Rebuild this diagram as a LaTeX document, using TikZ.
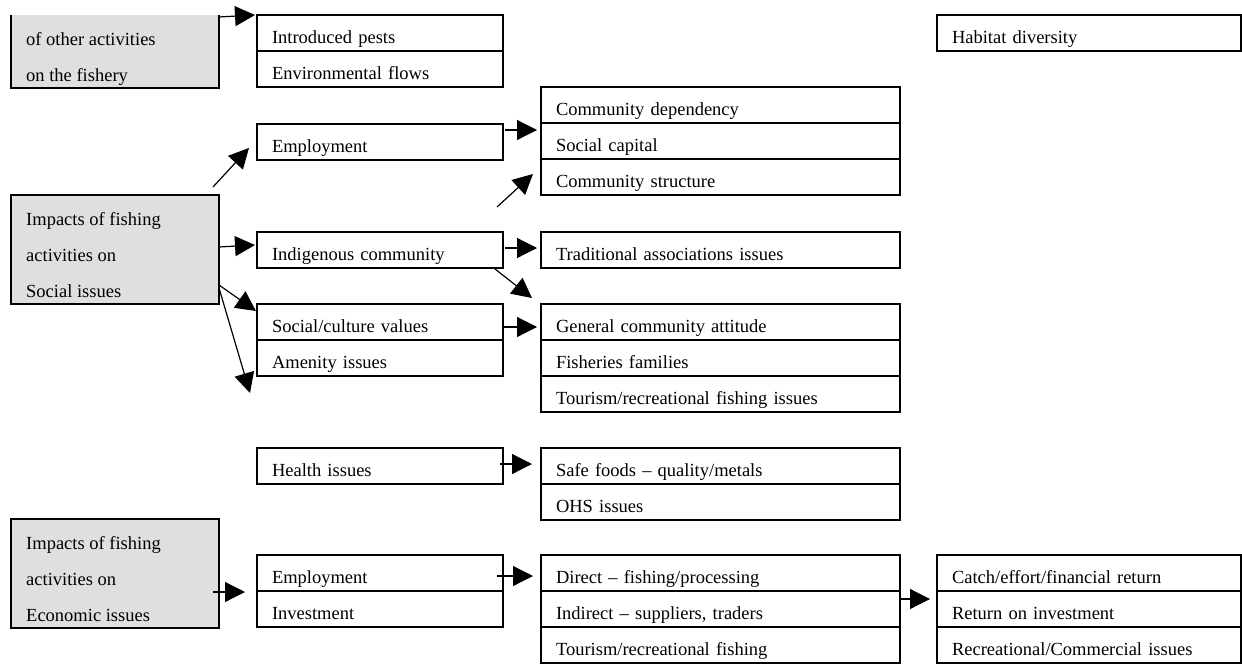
\documentclass[tikz,border=0pt]{standalone}
\usepackage{fontspec}
\setmainfont{Liberation Serif}
\usetikzlibrary{arrows.meta,calc}
\definecolor{gfill}{HTML}{DFDFDF}
\newcommand\boxfont{\fontsize{18.5pt}{22pt}\selectfont}
\begin{document}
\begin{tikzpicture}[x=1pt,y=-1pt,
  box/.style={draw, line width=1.8pt, anchor=north west, minimum height=36pt,
    inner xsep=15pt, inner ysep=0pt, outer sep=0pt, text height=20pt, text depth=0pt,
    align=left, font=\boxfont},
  colA/.style={text width=216pt},
  colB/.style={text width=329pt},
  colC/.style={text width=274pt},
  gbox/.style={fill=gfill, anchor=north west, minimum width=208pt, inner sep=0pt, outer sep=0pt},
  gtxt/.style={anchor=base west, inner sep=0pt, font=\boxfont},
  edge/.style={line width=1.8pt},
  arr/.style={line width=1.2pt, -{Triangle[length=20pt,width=20pt]}}
]
\useasboundingbox (0,0) rectangle (1242,664);

% grey boxes
\node[gbox, minimum height=73pt] (oth) at (11,15) {};
\draw[edge] (oth.north west) -- (oth.south west) -- (oth.south east) -- (oth.north east);
\node[gtxt] (oth1) at (26,45) {of other activities};
\node[gtxt] (oth2) at (26,81) {on the fishery};

\node[gbox, draw, line width=1.8pt, minimum height=109pt] (soc) at (11,195) {};
\node[gtxt] (soc1) at (26,225) {Impacts of fishing};
\node[gtxt] (soc2) at (26,261) {activities on};
\node[gtxt] (soc3) at (26,297) {Social issues};

\node[gbox, draw, line width=1.8pt, minimum height=109pt] (eco) at (11,519) {};
\node[gtxt] (eco1) at (26,549) {Impacts of fishing};
\node[gtxt] (eco2) at (26,585) {activities on};
\node[gtxt] (eco3) at (26,621) {Economic issues};

% column A
\node[box, colA] (ip)  at (257,15)  {Introduced pests};
\node[box, colA] (ef)  at (257,51)  {Environmental flows};
\node[box, colA] (emp) at (257,124) {Employment};
\node[box, colA] (ind) at (257,232) {Indigenous community};
\node[box, colA] (scv) at (257,304) {Social/culture values};
\node[box, colA] (am)  at (257,340) {Amenity issues};
\node[box, colA] (hi)  at (257,448) {Health issues};
\node[box, colA] (emp2) at (257,555) {Employment};
\node[box, colA] (inv) at (257,591) {Investment};

% column B
\node[box, colB] (cd)  at (541,87)  {Community dependency};
\node[box, colB] (sc)  at (541,123) {Social capital};
\node[box, colB] (cs)  at (541,159) {Community structure};
\node[box, colB] (ta)  at (541,232) {Traditional associations issues};
\node[box, colB] (gca) at (541,304) {General community attitude};
\node[box, colB] (ff)  at (541,340) {Fisheries families};
\node[box, colB] (tr)  at (541,376) {Tourism/recreational fishing issues};
\node[box, colB] (sf)  at (541,448) {Safe foods – quality/metals};
\node[box, colB] (ohs) at (541,484) {OHS issues};
\node[box, colB] (dir) at (541,555) {Direct – fishing/processing};
\node[box, colB] (indr) at (541,591) {Indirect – suppliers, traders};
\node[box, colB] (trf) at (541,627) {Tourism/recreational fishing};

% column C
\node[box, colC] (hd)  at (937,15)  {Habitat diversity};
\node[box, colC] (cat) at (937,555) {Catch/effort/financial return};
\node[box, colC] (roi) at (937,591) {Return on investment};
\node[box, colC] (rc)  at (937,627) {Recreational/Commercial issues};

% arrows
\draw[arr] ($(oth.north east)+(0,2)$) -- ($(ip.north west)+(-2,0)$);
\draw[arr] ($(soc.north east)+(-6,-8)$) -- ($(emp.south west)+(-8,-12)$);
\draw[arr] ($(emp.north east)+(2,6)$) -- ($(cd.south west)+(-4,7)$);
\draw[arr] ($(cs.south west)+(-44,12)$) -- ($(cs.south west)+(-8,-21)$);
\draw[arr] ($(soc.north east)+(0,52)$) -- ($(ind.north west)+(-2,13)$);
\draw[arr] ($(soc.north east)+(0,90)$) -- ($(scv.north west)+(-1,7)$);
\draw[arr] ($(soc.north east)+(0,93)$) -- ($(am.south west)+(-7,17)$);
\draw[arr] ($(ind.north east)+(2,16)$) -- ($(ta.north west)+(-4,16)$);
\draw[arr] ($(ind.south east)+(-8,1)$) -- ($(gca.north west)+(-9,-6)$);
\draw[arr] ($(scv.north east)+(0,23)$) -- ($(gca.north west)+(-4,23)$);
\draw[arr] ($(hi.north east)+(-3,16)$) -- ($(sf.north west)+(-9,16)$);
\draw[arr] ($(eco.north east)+(-6,73)$) -- ($(inv.north west)+(-12,1)$);
\draw[arr] ($(emp2.north east)+(-6,21)$) -- ($(dir.north west)+(-8,21)$);
\draw[arr] ($(indr.north east)+(0,8)$) -- ($(roi.north west)+(-7,8)$);
\end{tikzpicture}
\end{document}
